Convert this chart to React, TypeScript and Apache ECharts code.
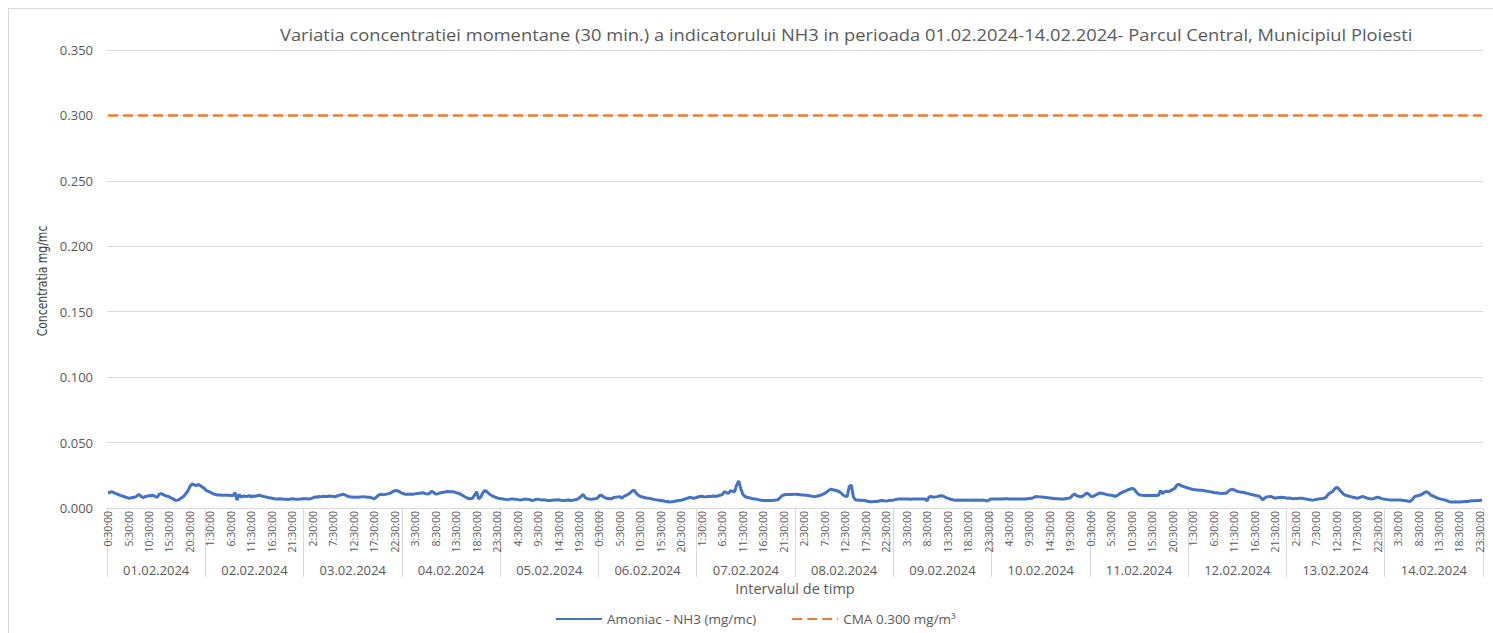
import React, { useEffect, useRef } from "react";
import * as echarts from "echarts";

const dates = [
  "01.02.2024", "02.02.2024", "03.02.2024", "04.02.2024", "05.02.2024", "06.02.2024", "07.02.2024",
  "08.02.2024", "09.02.2024", "10.02.2024", "11.02.2024", "12.02.2024", "13.02.2024", "14.02.2024",
];

const timeLabels = [
  "0:30:00", "1:00:00", "1:30:00", "2:00:00", "2:30:00", "3:00:00", "3:30:00", "4:00:00",
  "4:30:00", "5:00:00", "5:30:00", "6:00:00", "6:30:00", "7:00:00", "7:30:00", "8:00:00",
  "8:30:00", "9:00:00", "9:30:00", "10:00:00", "10:30:00", "11:00:00", "11:30:00", "12:00:00",
  "12:30:00", "13:00:00", "13:30:00", "14:00:00", "14:30:00", "15:00:00", "15:30:00", "16:00:00",
  "16:30:00", "17:00:00", "17:30:00", "18:00:00", "18:30:00", "19:00:00", "19:30:00", "20:00:00",
  "20:30:00", "21:00:00", "21:30:00", "22:00:00", "22:30:00", "23:00:00", "23:30:00", "0:00:00",
];

const nh3_0102 = [0.0115, 0.012, 0.0125, 0.0115, 0.011, 0.0103, 0.0097, 0.0092, 0.0086, 0.0081, 0.0075, 0.0076, 0.008, 0.0082, 0.009, 0.0105, 0.009, 0.008, 0.0086, 0.009, 0.0095, 0.0094, 0.0098, 0.0088, 0.008, 0.0105, 0.011, 0.0102, 0.0095, 0.009, 0.0085, 0.0075, 0.0068, 0.0057, 0.006, 0.0068, 0.0078, 0.009, 0.011, 0.013, 0.0165, 0.0183, 0.0178, 0.017, 0.018, 0.0172, 0.016, 0.015];
const nh3_0202 = [0.0133, 0.0127, 0.012, 0.011, 0.0105, 0.0102, 0.01, 0.0099, 0.0098, 0.0098, 0.0097, 0.0097, 0.0096, 0.0095, 0.0118, 0.006, 0.0105, 0.0082, 0.0092, 0.009, 0.0088, 0.0095, 0.0085, 0.0092, 0.009, 0.0095, 0.0097, 0.0092, 0.0088, 0.0085, 0.008, 0.0078, 0.0075, 0.0072, 0.0068, 0.0068, 0.007, 0.0068, 0.0066, 0.0068, 0.0065, 0.0068, 0.007, 0.0068, 0.0066, 0.0067, 0.0068, 0.007];
const nh3_0302 = [0.007, 0.007, 0.0068, 0.0072, 0.0078, 0.0085, 0.0082, 0.0088, 0.0085, 0.009, 0.0088, 0.0087, 0.0092, 0.009, 0.0088, 0.0086, 0.0092, 0.0098, 0.0102, 0.0105, 0.0098, 0.009, 0.0085, 0.0084, 0.0082, 0.0083, 0.0082, 0.0084, 0.0085, 0.0086, 0.0084, 0.0083, 0.0082, 0.0076, 0.007, 0.0082, 0.0097, 0.0105, 0.0103, 0.0102, 0.0106, 0.011, 0.0115, 0.0125, 0.0132, 0.0133, 0.0128, 0.0118];
const nh3_0402 = [0.0112, 0.0106, 0.0105, 0.0106, 0.0107, 0.0106, 0.0108, 0.011, 0.0112, 0.0114, 0.0116, 0.011, 0.0106, 0.0112, 0.0128, 0.012, 0.0106, 0.0108, 0.0115, 0.0118, 0.012, 0.0124, 0.0126, 0.0125, 0.0124, 0.0122, 0.0118, 0.0113, 0.0107, 0.0098, 0.0088, 0.008, 0.0072, 0.007, 0.0074, 0.0098, 0.0125, 0.007, 0.0082, 0.0115, 0.0133, 0.0125, 0.011, 0.0098, 0.009, 0.0083, 0.0078, 0.0072];
const nh3_0502 = [0.007, 0.0068, 0.0066, 0.0064, 0.0066, 0.0068, 0.0068, 0.0066, 0.0064, 0.0062, 0.0063, 0.0066, 0.0068, 0.0066, 0.0064, 0.0058, 0.006, 0.0065, 0.0068, 0.0064, 0.0061, 0.0063, 0.006, 0.0058, 0.0057, 0.006, 0.0062, 0.0061, 0.0063, 0.006, 0.0058, 0.0057, 0.006, 0.0061, 0.0058, 0.006, 0.0063, 0.0066, 0.0075, 0.0088, 0.0105, 0.008, 0.0072, 0.0068, 0.0066, 0.0068, 0.0072, 0.0075];
const nh3_0602 = [0.0095, 0.0098, 0.0085, 0.0076, 0.0072, 0.007, 0.0072, 0.008, 0.0083, 0.0085, 0.0087, 0.0074, 0.009, 0.0096, 0.0105, 0.0115, 0.013, 0.0136, 0.0112, 0.0098, 0.0088, 0.0084, 0.008, 0.0076, 0.0074, 0.0072, 0.0068, 0.0064, 0.0062, 0.006, 0.0058, 0.0055, 0.0052, 0.005, 0.0046, 0.0047, 0.0049, 0.0052, 0.0055, 0.0058, 0.006, 0.0065, 0.007, 0.0074, 0.0082, 0.0078, 0.0074, 0.0078];
const nh3_0702 = [0.0084, 0.0088, 0.009, 0.0086, 0.0085, 0.0088, 0.0087, 0.009, 0.0092, 0.0089, 0.0094, 0.0098, 0.0102, 0.0125, 0.0118, 0.0112, 0.0132, 0.0128, 0.0124, 0.0175, 0.0207, 0.015, 0.0105, 0.0088, 0.0082, 0.0078, 0.0074, 0.007, 0.0068, 0.0066, 0.0062, 0.006, 0.0058, 0.0058, 0.0057, 0.0058, 0.0058, 0.0059, 0.006, 0.0063, 0.0075, 0.0092, 0.0099, 0.0103, 0.0104, 0.0104, 0.0104, 0.0105];
const nh3_0802 = [0.0105, 0.0104, 0.0102, 0.01, 0.0099, 0.0098, 0.0095, 0.0092, 0.009, 0.0087, 0.009, 0.0094, 0.0098, 0.0105, 0.0112, 0.0122, 0.0135, 0.0143, 0.014, 0.0136, 0.0132, 0.0126, 0.0115, 0.0099, 0.009, 0.0088, 0.0165, 0.0176, 0.0085, 0.0063, 0.006, 0.0061, 0.0058, 0.006, 0.0055, 0.0052, 0.0048, 0.0047, 0.005, 0.0049, 0.0052, 0.0056, 0.0058, 0.0055, 0.0054, 0.0056, 0.006, 0.0058];
const nh3_0902 = [0.0062, 0.0066, 0.0068, 0.0069, 0.0068, 0.0069, 0.0068, 0.0068, 0.0067, 0.0069, 0.0068, 0.0069, 0.0068, 0.0068, 0.0068, 0.0069, 0.0055, 0.0085, 0.0088, 0.0083, 0.0085, 0.0087, 0.0092, 0.0094, 0.009, 0.0082, 0.0075, 0.007, 0.0065, 0.0061, 0.006, 0.0061, 0.006, 0.0061, 0.006, 0.0061, 0.006, 0.006, 0.0061, 0.006, 0.0061, 0.006, 0.006, 0.0061, 0.006, 0.0054, 0.0058, 0.0068];
const nh3_1002 = [0.0068, 0.0069, 0.0068, 0.0068, 0.0068, 0.0069, 0.007, 0.007, 0.0069, 0.0068, 0.0068, 0.0068, 0.0069, 0.0069, 0.0068, 0.0068, 0.0068, 0.007, 0.0072, 0.0074, 0.008, 0.0087, 0.0086, 0.0085, 0.0084, 0.0082, 0.008, 0.0078, 0.0076, 0.0074, 0.0072, 0.0071, 0.007, 0.0069, 0.0068, 0.0069, 0.0072, 0.0074, 0.008, 0.0095, 0.0107, 0.0095, 0.009, 0.0086, 0.009, 0.0102, 0.0115, 0.0105];
const nh3_1102 = [0.009, 0.0088, 0.0096, 0.0105, 0.0112, 0.0114, 0.011, 0.0106, 0.0102, 0.0099, 0.0097, 0.0094, 0.0088, 0.0097, 0.0108, 0.0118, 0.0124, 0.013, 0.0138, 0.0143, 0.015, 0.0145, 0.0126, 0.0108, 0.0099, 0.0097, 0.0096, 0.0096, 0.0097, 0.0096, 0.0096, 0.0097, 0.0096, 0.0097, 0.0133, 0.011, 0.0125, 0.0128, 0.0126, 0.0133, 0.0142, 0.015, 0.0175, 0.0183, 0.017, 0.0166, 0.016, 0.0155];
const nh3_1202 = [0.015, 0.0145, 0.0142, 0.014, 0.0138, 0.0136, 0.0135, 0.0133, 0.013, 0.0128, 0.0125, 0.0122, 0.0118, 0.0116, 0.0114, 0.0112, 0.0111, 0.0112, 0.0113, 0.0125, 0.0138, 0.0143, 0.0138, 0.013, 0.0125, 0.0122, 0.012, 0.0118, 0.0113, 0.011, 0.0104, 0.0101, 0.0097, 0.0094, 0.0092, 0.0078, 0.0062, 0.0078, 0.0085, 0.0087, 0.0087, 0.0082, 0.0075, 0.0078, 0.008, 0.0082, 0.008, 0.0078];
const nh3_1302 = [0.0075, 0.0076, 0.0073, 0.0071, 0.0072, 0.0073, 0.0074, 0.0075, 0.0072, 0.0068, 0.0066, 0.0063, 0.006, 0.0062, 0.0065, 0.0068, 0.007, 0.0072, 0.0075, 0.0085, 0.0105, 0.0118, 0.0125, 0.0145, 0.0158, 0.0148, 0.013, 0.0112, 0.0099, 0.0095, 0.009, 0.0087, 0.0082, 0.0078, 0.0075, 0.0078, 0.0085, 0.0088, 0.008, 0.0075, 0.0072, 0.0068, 0.0072, 0.0078, 0.0083, 0.0078, 0.0072, 0.0068];
const nh3_1402 = [0.0066, 0.0064, 0.0062, 0.0062, 0.0061, 0.0062, 0.0061, 0.0061, 0.006, 0.0058, 0.0056, 0.0052, 0.005, 0.0065, 0.0085, 0.0092, 0.0095, 0.0099, 0.0108, 0.0118, 0.0125, 0.0115, 0.0099, 0.0092, 0.0085, 0.0076, 0.0072, 0.0068, 0.0064, 0.0061, 0.0055, 0.0048, 0.0045, 0.0046, 0.0047, 0.0045, 0.0046, 0.0048, 0.0048, 0.0049, 0.005, 0.0054, 0.0055, 0.0056, 0.0056, 0.0057, 0.0058, 0.0061];

const CMA_LIMIT = 0.3;

const SERIES_NH3 = "Amoniac - NH3 (mg/mc)";
const SERIES_CMA = "CMA 0.300 mg/m³";
const TITLE =
  "Variatia concentratiei momentane (30 min.) a indicatorului NH3 in perioada 01.02.2024-14.02.2024- Parcul Central, Municipiul Ploiesti";
const Y_NAME = "Concentratia mg/mc";
const X_NAME = "Intervalul de timp";

const FONT = "'Open Sans', 'Noto Sans', sans-serif";
const TEXT = "#595959";
const GRID = "#d9d9d9";

export default function App() {
  const ref = useRef<HTMLDivElement>(null);

  useEffect(() => {
    if (!ref.current) return;
    const chart = echarts.init(ref.current, null, { renderer: "svg" });
    const categories = dates.flatMap((d) => timeLabels.map((t) => d + " " + t));
    const nh3 = [
      nh3_0102, nh3_0202, nh3_0302, nh3_0402, nh3_0502, nh3_0602, nh3_0702,
      nh3_0802, nh3_0902, nh3_1002, nh3_1102, nh3_1202, nh3_1302, nh3_1402,
    ].flat();
    const cma = categories.map(() => CMA_LIMIT);

    chart.setOption({
      animation: false,
      textStyle: { fontFamily: FONT },
      graphic: [
        { type: "line", shape: { x1: 0.5, y1: 0, x2: 0.5, y2: 625 }, style: { stroke: GRID, lineWidth: 1 }, silent: true },
        { type: "line", shape: { x1: 0, y1: 0.5, x2: 1485, y2: 0.5 }, style: { stroke: GRID, lineWidth: 1 }, silent: true },
        {
          type: "text",
          x: 272,
          y: 27,
          scaleX: 1.145,
          silent: true,
          style: {
            text: TITLE,
            fontFamily: FONT,
            fontSize: 16,
            fill: TEXT,
            align: "left",
            verticalAlign: "middle",
          },
        },
        {
          type: "text",
          x: 34.5,
          y: 273,
          rotation: Math.PI / 2,
          scaleX: 0.86,
          silent: true,
          style: {
            text: Y_NAME,
            fontFamily: "'Liberation Sans Narrow', 'DejaVu Sans Condensed', sans-serif",
            fontSize: 14,
            fill: "#404040",
            align: "center",
            verticalAlign: "middle",
          },
        },
      ],
      legend: {
        left: 547,
        top: 604,
        padding: 0,
        itemWidth: 46,
        itemHeight: 14,
        itemGap: 35,
        itemStyle: { opacity: 0 },
        data: [SERIES_NH3, SERIES_CMA],
        textStyle: { fontFamily: FONT, fontSize: 13.5, color: TEXT },
      },
      grid: { left: 99, right: 10, top: 42, bottom: 125, containLabel: false },
      xAxis: [
        {
          type: "category",
          data: categories,
          position: "bottom",
          boundaryGap: true,
          axisLine: { show: true, onZero: false, lineStyle: { color: GRID, width: 1 } },
          axisTick: { show: false },
          axisLabel: {
            interval: 9,
            rotate: 90,
            margin: 3,
            fontSize: 10.5,
            color: TEXT,
            fontFamily: FONT,
            formatter: (v: string) => v.split(" ")[1],
          },
          splitLine: { show: false },
        },
        {
          type: "category",
          data: dates,
          position: "bottom",
          boundaryGap: true,
          axisLine: { show: false, onZero: false },
          axisTick: { show: true, interval: 0, length: 69, lineStyle: { color: GRID, width: 1 } },
          axisLabel: { interval: 0, margin: 55, fontSize: 13, color: TEXT, fontFamily: FONT },
          splitLine: { show: false },
          name: X_NAME,
          nameLocation: "middle",
          nameGap: 71,
          nameTextStyle: { fontSize: 14.5, color: TEXT, fontFamily: FONT },
        },
      ],
      yAxis: {
        type: "value",
        min: 0,
        max: 0.35,
        interval: 0.05,
        axisLine: { show: false },
        axisTick: { show: false },
        splitLine: { lineStyle: { color: GRID, width: 1 } },
        axisLabel: {
          margin: 14,
          fontSize: 13,
          color: TEXT,
          fontFamily: FONT,
          formatter: (v: number) => v.toFixed(3),
        },
      },
      series: [
        {
          name: SERIES_NH3,
          type: "line",
          xAxisIndex: 0,
          data: nh3,
          symbol: "none",
          showSymbol: false,
          lineStyle: { color: "#4472C4", width: 3 },
          itemStyle: { color: "#4472C4" },
          z: 3,
        },
        {
          name: SERIES_CMA,
          type: "line",
          xAxisIndex: 0,
          data: cma,
          symbol: "none",
          showSymbol: false,
          lineStyle: { color: "#ED7D31", width: 2.5, type: [10, 5] },
          itemStyle: { color: "#ED7D31" },
          z: 2,
        },
      ],
    });

    return () => chart.dispose();
  }, []);

  return (
    <div
      ref={ref}
      style={{ position: "absolute", left: 8, top: 8, width: 1485, height: 625, background: "#fff" }}
    />
  );
}
